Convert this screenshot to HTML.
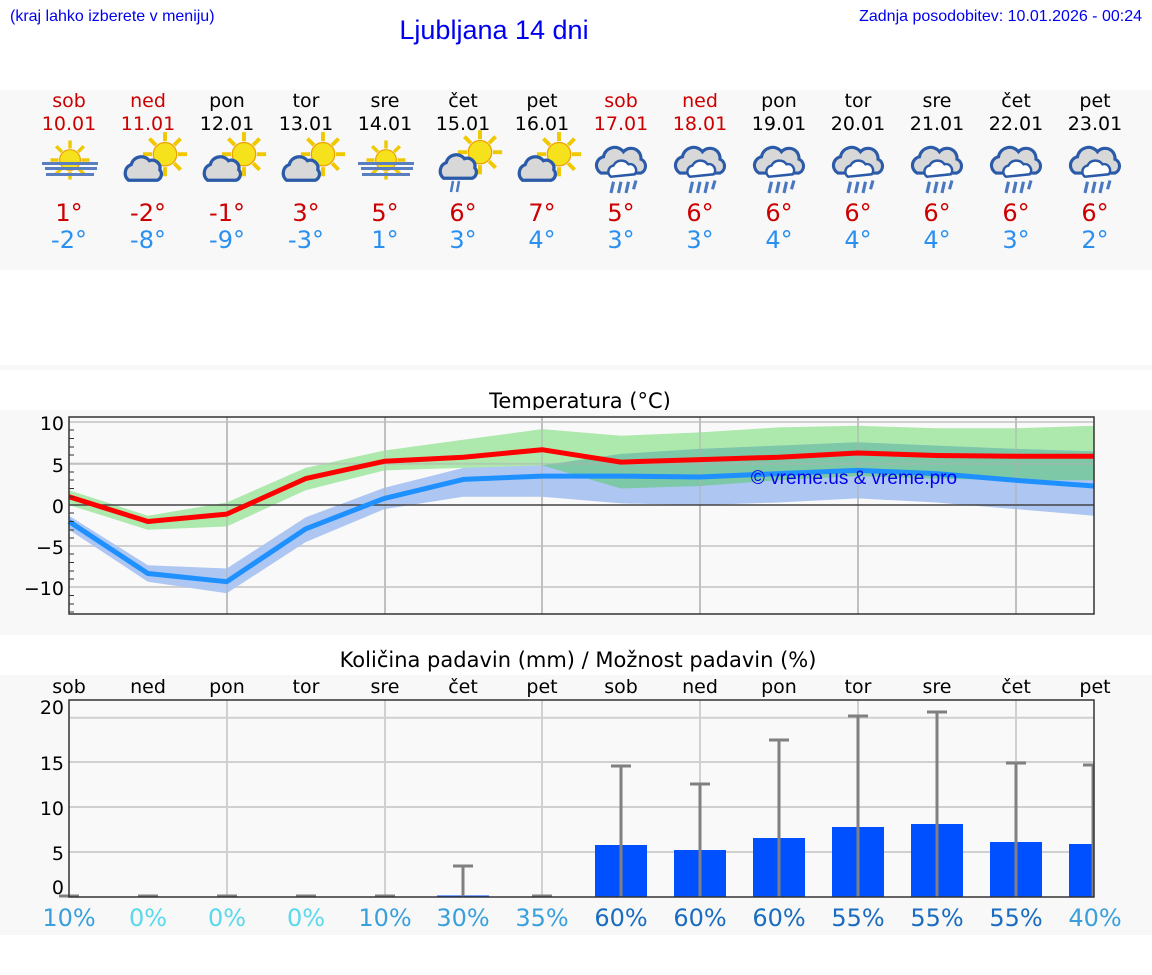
<!DOCTYPE html>
<html><head><meta charset="utf-8"><style>
body{margin:0;background:#fff;width:1152px;height:975px;overflow:hidden}
svg{display:block}
.dj{font-family:"DejaVu Sans",sans-serif}
.lb{font-family:"Liberation Sans",sans-serif}
</style></head><body>
<svg width="1152" height="975" viewBox="0 0 1152 975">
<defs>
<g id="sun">
<g stroke="#f0c800" stroke-width="3">
<line x1="0" y1="-17" x2="0" y2="-10"/><line x1="0" y1="17" x2="0" y2="10"/>
<line x1="-17" y1="0" x2="-10" y2="0"/><line x1="17" y1="0" x2="10" y2="0"/>
<line x1="-12" y1="-12" x2="-7" y2="-7"/><line x1="12" y1="12" x2="7" y2="7"/>
<line x1="-12" y1="12" x2="-7" y2="7"/><line x1="12" y1="-12" x2="7" y2="-7"/>
</g>
<circle r="9" fill="#f5e21c" stroke="#f0a000" stroke-width="1"/>
</g>
<g id="fog"><use href="#sun" transform="translate(1,-6) scale(1.15)"/>
<rect x="-27" y="-4" width="56" height="3" fill="#5a7fc0"/><rect x="-24" y="1" width="52" height="3" fill="#5a7fc0"/><rect x="-23" y="7" width="48" height="3" fill="#5a7fc0"/></g>
<g id="sc"><use href="#sun" transform="translate(20,-6)"/>
<path d="M-8,14 a7,7 0 0 1 2,-12 a8,8 0 0 1 14,-3 a6,6 0 0 1 8,7 a5,5 0 0 1 -2,8 z" fill="#d8d8d8" stroke="#2a5aa8" stroke-width="2.5"/></g>
<g id="rc">
<path d="M-16,8 a7,7 0 0 1 2,-13 a9,9 0 0 1 16,-4 a8,8 0 0 1 14,6 a6,6 0 0 1 0,11 z" fill="#d8d8d8" stroke="#2a5aa8" stroke-width="2.5"/>
<path d="M-8,11 a5,5 0 0 1 2,-9 a7,7 0 0 1 12,-1 a5,5 0 0 1 5,8 z" fill="#fff" stroke="#2a5aa8" stroke-width="2"/>
<g stroke="#4a78c0" stroke-width="2.5"><line x1="-6" y1="15" x2="-8" y2="24"/><line x1="0" y1="15" x2="-2" y2="24"/><line x1="6" y1="15" x2="4" y2="24"/><line x1="12" y1="14" x2="10" y2="21"/></g>
</g>
<clipPath id="bc"><polygon points="69,515.7 147.9,565.2 226.7,568.5 305.6,517.4 384.4,487.7 463.3,467.9 542.1,465.4 621,453.9 699.8,448.9 778.7,445.6 857.5,442.3 936.4,445.6 1015.2,448.9 1094.1,451.4 1094.1,515.7 1015.2,509.1 936.4,502.5 857.5,498.4 778.7,502.5 699.8,505 621,503.4 542.1,496.8 463.3,496.8 384.4,509.1 305.6,542.1 226.7,593.3 147.9,581.7 69,529.8"/></clipPath>
</defs>

<text x="10" y="21" class="lb" font-size="16" fill="#0000ee">(kraj lahko izberete v meniju)</text>
<text x="494" y="39" class="lb" font-size="27" fill="#0000ee" text-anchor="middle">Ljubljana 14 dni</text>
<text x="1142" y="21" class="lb" font-size="16" fill="#0000ee" text-anchor="end">Zadnja posodobitev: 10.01.2026 - 00:24</text>

<rect x="0" y="90" width="1152" height="180" fill="#f8f8f8"/>
<g class="dj" font-size="19" text-anchor="middle">
<g fill="#cc0000"><text x="69" y="107">sob</text><text x="148" y="107">ned</text><text x="621" y="107">sob</text><text x="700" y="107">ned</text>
<text x="69" y="130">10.01</text><text x="148" y="130">11.01</text><text x="621" y="130">17.01</text><text x="700" y="130">18.01</text></g>
<g fill="#000"><text x="227" y="107">pon</text><text x="306" y="107">tor</text><text x="385" y="107">sre</text><text x="463" y="107">čet</text><text x="542" y="107">pet</text><text x="779" y="107">pon</text><text x="858" y="107">tor</text><text x="937" y="107">sre</text><text x="1016" y="107">čet</text><text x="1095" y="107">pet</text>
<text x="227" y="130">12.01</text><text x="306" y="130">13.01</text><text x="385" y="130">14.01</text><text x="463" y="130">15.01</text><text x="542" y="130">16.01</text><text x="779" y="130">19.01</text><text x="858" y="130">20.01</text><text x="937" y="130">21.01</text><text x="1016" y="130">22.01</text><text x="1095" y="130">23.01</text></g>
</g>
<use href="#fog" transform="translate(69,166)"/><use href="#fog" transform="translate(385,166)"/>
<use href="#sc" transform="translate(139,162) scale(1.3)"/><use href="#sc" transform="translate(218,162) scale(1.3)"/><use href="#sc" transform="translate(297,162) scale(1.3)"/><use href="#sc" transform="translate(533,162) scale(1.3)"/>
<use href="#sc" transform="translate(454,160) scale(1.3)"/>
<g stroke="#4a78c0" stroke-width="2.5"><line x1="453" y1="181" x2="451" y2="192"/><line x1="459" y1="181" x2="457" y2="192"/></g>
<use href="#rc" transform="translate(621,163) scale(1.25)"/><use href="#rc" transform="translate(700,163) scale(1.25)"/><use href="#rc" transform="translate(779,163) scale(1.25)"/><use href="#rc" transform="translate(858,163) scale(1.25)"/><use href="#rc" transform="translate(937,163) scale(1.25)"/><use href="#rc" transform="translate(1016,163) scale(1.25)"/><use href="#rc" transform="translate(1095,163) scale(1.25)"/>
<g class="dj" font-size="24" text-anchor="middle">
<g fill="#cc0000"><text x="69" y="221">1°</text><text x="148" y="221">-2°</text><text x="227" y="221">-1°</text><text x="306" y="221">3°</text><text x="385" y="221">5°</text><text x="463" y="221">6°</text><text x="542" y="221">7°</text><text x="621" y="221">5°</text><text x="700" y="221">6°</text><text x="779" y="221">6°</text><text x="858" y="221">6°</text><text x="937" y="221">6°</text><text x="1016" y="221">6°</text><text x="1095" y="221">6°</text></g>
<g fill="#2a90f0"><text x="69" y="248">-2°</text><text x="148" y="248">-8°</text><text x="227" y="248">-9°</text><text x="306" y="248">-3°</text><text x="385" y="248">1°</text><text x="463" y="248">3°</text><text x="542" y="248">4°</text><text x="621" y="248">3°</text><text x="700" y="248">3°</text><text x="779" y="248">4°</text><text x="858" y="248">4°</text><text x="937" y="248">4°</text><text x="1016" y="248">3°</text><text x="1095" y="248">2°</text></g>
</g>

<rect x="0" y="365" width="1152" height="5" fill="#f8f8f8"/>
<text x="580" y="408" class="dj" font-size="21" text-anchor="middle">Temperatura (°C)</text>
<rect x="0" y="410" width="1152" height="225" fill="#f8f8f8"/>
<rect x="69" y="417" width="1025" height="197" fill="#f9f9f9"/>
<g stroke="#d0d0d0" stroke-width="2">
<line x1="69" y1="422" x2="1094" y2="422"/><line x1="69" y1="463.7" x2="1094" y2="463.7"/><line x1="69" y1="546" x2="1094" y2="546"/><line x1="69" y1="587" x2="1094" y2="587"/>
<line x1="227" y1="417" x2="227" y2="614"/><line x1="385" y1="417" x2="385" y2="614"/><line x1="542" y1="417" x2="542" y2="614"/><line x1="700" y1="417" x2="700" y2="614"/><line x1="858" y1="417" x2="858" y2="614"/><line x1="1016" y1="417" x2="1016" y2="614"/>
</g>
<polygon fill="#ade8ad" points="69,490.2 147.9,515.7 226.7,502.5 305.6,467.9 384.4,450.5 463.3,439.8 542.1,429.1 621,435.7 699.8,432.4 778.7,427.4 857.5,425.8 936.4,428.3 1015.2,428.3 1094.1,425.8 1094.1,480.3 1015.2,480.3 936.4,478.6 857.5,476.1 778.7,480.3 699.8,486 621,488.5 542.1,465.4 463.3,467.9 384.4,470.4 305.6,490.2 226.7,526.5 147.9,529.8 69,505"/>
<polygon fill="#aec6f2" points="69,515.7 147.9,565.2 226.7,568.5 305.6,517.4 384.4,487.7 463.3,467.9 542.1,465.4 621,453.9 699.8,448.9 778.7,445.6 857.5,442.3 936.4,445.6 1015.2,448.9 1094.1,451.4 1094.1,515.7 1015.2,509.1 936.4,502.5 857.5,498.4 778.7,502.5 699.8,505 621,503.4 542.1,496.8 463.3,496.8 384.4,509.1 305.6,542.1 226.7,593.3 147.9,581.7 69,529.8"/>
<polygon clip-path="url(#bc)" fill="#7cc8a7" points="69,490.2 147.9,515.7 226.7,502.5 305.6,467.9 384.4,450.5 463.3,439.8 542.1,429.1 621,435.7 699.8,432.4 778.7,427.4 857.5,425.8 936.4,428.3 1015.2,428.3 1094.1,425.8 1094.1,480.3 1015.2,480.3 936.4,478.6 857.5,476.1 778.7,480.3 699.8,486 621,488.5 542.1,465.4 463.3,467.9 384.4,470.4 305.6,490.2 226.7,526.5 147.9,529.8 69,505"/>
<g stroke="#b0b0b0" stroke-opacity="0.5" stroke-width="2"><line x1="227" y1="417" x2="227" y2="614"/><line x1="385" y1="417" x2="385" y2="614"/><line x1="542" y1="417" x2="542" y2="614"/><line x1="700" y1="417" x2="700" y2="614"/><line x1="858" y1="417" x2="858" y2="614"/><line x1="1016" y1="417" x2="1016" y2="614"/><line x1="69" y1="463.7" x2="1094" y2="463.7"/></g>
<line x1="69" y1="505" x2="1094" y2="505" stroke="#444" stroke-width="1.5"/>
<polyline fill="none" stroke="#1e90ff" stroke-width="5" stroke-linejoin="round" points="69,521.5 147.9,573.5 226.7,581.7 305.6,528.9 384.4,498.4 463.3,479.4 542.1,476.1 621,476.1 699.8,477 778.7,473.6 857.5,470.4 936.4,473.6 1015.2,480.3 1094.1,486"/>
<polyline fill="none" stroke="#ff0000" stroke-width="5" stroke-linejoin="round" points="69,496.8 147.9,521.5 226.7,514.1 305.6,478.6 384.4,461.3 463.3,457.2 542.1,449.7 621,462.1 699.8,459.6 778.7,457.2 857.5,453 936.4,455.5 1015.2,456.3 1094.1,456.3"/>
<text x="854" y="484" class="lb" font-size="19" fill="#0000ee" text-anchor="middle">© vreme.us &amp; vreme.pro</text>
<rect x="69" y="417" width="1025" height="197" fill="none" stroke="#333" stroke-width="1.5"/>
<g stroke="#333" stroke-width="1"><line x1="69" y1="430" x2="74" y2="430"/><line x1="69" y1="438.5" x2="74" y2="438.5"/><line x1="69" y1="447" x2="74" y2="447"/><line x1="69" y1="455" x2="74" y2="455"/><line x1="69" y1="472" x2="74" y2="472"/><line x1="69" y1="480" x2="74" y2="480"/><line x1="69" y1="488.5" x2="74" y2="488.5"/><line x1="69" y1="497" x2="74" y2="497"/><line x1="69" y1="513" x2="74" y2="513"/><line x1="69" y1="521.5" x2="74" y2="521.5"/><line x1="69" y1="530" x2="74" y2="530"/><line x1="69" y1="538" x2="74" y2="538"/><line x1="69" y1="554" x2="74" y2="554"/><line x1="69" y1="562.5" x2="74" y2="562.5"/><line x1="69" y1="571" x2="74" y2="571"/><line x1="69" y1="579" x2="74" y2="579"/><line x1="69" y1="595.5" x2="74" y2="595.5"/><line x1="69" y1="604" x2="74" y2="604"/><line x1="69" y1="612" x2="74" y2="612"/></g>
<g class="dj" font-size="19" text-anchor="end"><text x="64" y="430">10</text><text x="64" y="472">5</text><text x="64" y="513">0</text><text x="64" y="554">−5</text><text x="64" y="595">−10</text></g>

<text x="578" y="667" class="dj" font-size="21" text-anchor="middle">Količina padavin (mm) / Možnost padavin (%)</text>
<rect x="0" y="675" width="1152" height="260" fill="#f8f8f8"/>
<g class="dj" font-size="19" text-anchor="middle"><text x="69" y="693">sob</text><text x="148" y="693">ned</text><text x="227" y="693">pon</text><text x="306" y="693">tor</text><text x="385" y="693">sre</text><text x="463" y="693">čet</text><text x="542" y="693">pet</text><text x="621" y="693">sob</text><text x="700" y="693">ned</text><text x="779" y="693">pon</text><text x="858" y="693">tor</text><text x="937" y="693">sre</text><text x="1016" y="693">čet</text><text x="1095" y="693">pet</text></g>
<rect x="69" y="700" width="1025" height="197" fill="#f9f9f9"/>
<g stroke="#d0d0d0" stroke-width="2">
<line x1="69" y1="717.7" x2="1094" y2="717.7"/><line x1="69" y1="762" x2="1094" y2="762"/><line x1="69" y1="807" x2="1094" y2="807"/><line x1="69" y1="852" x2="1094" y2="852"/>
<line x1="227" y1="700" x2="227" y2="897"/><line x1="385" y1="700" x2="385" y2="897"/><line x1="542" y1="700" x2="542" y2="897"/><line x1="700" y1="700" x2="700" y2="897"/><line x1="858" y1="700" x2="858" y2="897"/><line x1="1016" y1="700" x2="1016" y2="897"/>
</g>
<g fill="#0050ff"><rect x="595" y="845" width="52" height="52"/><rect x="674" y="850" width="52" height="47"/><rect x="753" y="838" width="52" height="59"/><rect x="832" y="827" width="52" height="70"/><rect x="911" y="824" width="52" height="73"/><rect x="990" y="842" width="52" height="55"/><rect x="1069" y="844" width="25" height="53"/><rect x="437" y="895.5" width="52" height="1.5"/></g>
<g stroke="#808080" stroke-width="3">
<line x1="621" y1="766" x2="621" y2="897"/><line x1="611" y1="766" x2="631" y2="766"/>
<line x1="700" y1="784" x2="700" y2="897"/><line x1="690" y1="784" x2="710" y2="784"/>
<line x1="779" y1="740" x2="779" y2="897"/><line x1="769" y1="740" x2="789" y2="740"/>
<line x1="858" y1="716" x2="858" y2="897"/><line x1="848" y1="716" x2="868" y2="716"/>
<line x1="937" y1="712" x2="937" y2="897"/><line x1="927" y1="712" x2="947" y2="712"/>
<line x1="1016" y1="763" x2="1016" y2="897"/><line x1="1006" y1="763" x2="1026" y2="763"/>
<line x1="1093" y1="765" x2="1093" y2="897"/><line x1="1083" y1="765" x2="1094" y2="765"/>
<line x1="463" y1="866" x2="463" y2="897"/><line x1="453" y1="866" x2="473" y2="866"/>
<line x1="59" y1="896" x2="79" y2="896"/><line x1="138" y1="896" x2="158" y2="896"/><line x1="217" y1="896" x2="237" y2="896"/><line x1="296" y1="896" x2="316" y2="896"/><line x1="375" y1="896" x2="395" y2="896"/><line x1="532" y1="896" x2="552" y2="896"/>
</g>
<rect x="69" y="700" width="1025" height="197" fill="none" stroke="#333" stroke-width="1.5"/>
<g class="dj" font-size="19" text-anchor="end"><text x="64" y="714">20</text><text x="64" y="770">15</text><text x="64" y="815">10</text><text x="64" y="860">5</text><text x="64" y="894">0</text></g>
<g class="dj" font-size="24" text-anchor="middle">
<g fill="#3aa0dc"><text x="69" y="926">10%</text><text x="385" y="926">10%</text><text x="463" y="926">30%</text><text x="542" y="926">35%</text><text x="1095" y="926">40%</text></g>
<g fill="#5ad8ec"><text x="148" y="926">0%</text><text x="227" y="926">0%</text><text x="306" y="926">0%</text></g>
<g fill="#1a6cc0"><text x="621" y="926">60%</text><text x="700" y="926">60%</text><text x="779" y="926">60%</text><text x="858" y="926">55%</text><text x="937" y="926">55%</text><text x="1016" y="926">55%</text></g>
</g>
</svg>
</body></html>
